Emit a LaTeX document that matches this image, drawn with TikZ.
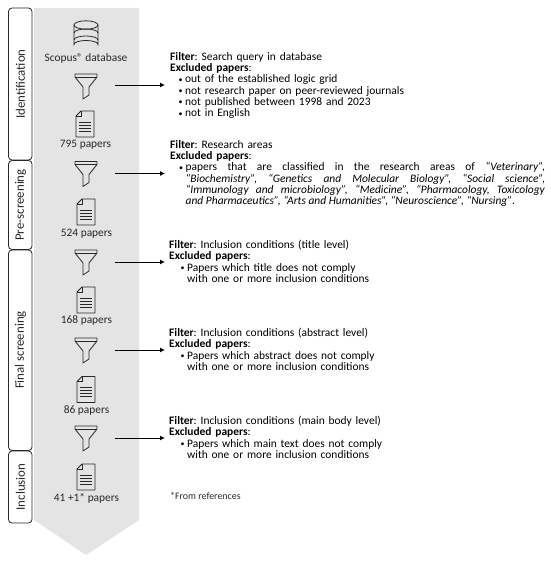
\documentclass[tikz,border=0pt]{standalone}
\usepackage{fontspec}
\setmainfont{Carlito}
\usetikzlibrary{arrows.meta}
\definecolor{bandgray}{RGB}{228,228,228}
\definecolor{inkgray}{RGB}{40,40,40}
\newcommand{\smallbullet}{\llap{\raisebox{.6pt}{\fontsize{8}{8}\selectfont\textbullet}\hspace{2.6pt}}}
\newcommand{\bulletline}[2][15pt]{\par\leftskip=#1\relax\noindent\smallbullet#2\par}
\tikzset{
  phasebox/.style={draw=inkgray,line width=.8pt,rounded corners=3.5pt,fill=white},
  phaselabel/.style={rotate=90,font=\fontsize{12.9}{14}\selectfont,text=inkgray,inner sep=0pt},
  iconlabel/.style={font=\fontsize{11.4}{12}\selectfont,text=inkgray,inner sep=0pt,anchor=base},
  filtertext/.style={font=\fontsize{11.45}{11.3}\selectfont\frenchspacing,text=black,inner sep=0pt,anchor=north west,align=left,text width=375pt},
  excludearrow/.style={-{Latex[length=5pt,width=5pt]},line width=.9pt,black},
  funnel/.pic={
    \draw[inkgray,line width=.8pt,line join=round] (-11,0) -- (11,0) -- (11,3) -- (3,13) -- (3,21) -- (-3,25) -- (-3,13) -- (-11,3) -- cycle;
    \draw[inkgray,line width=.8pt] (-11,3) -- (11,3);
  },
  paper/.pic={
    \draw[inkgray,line width=.8pt,line join=round] (-4,0) -- (9,0) -- (9,26) -- (-9,26) -- (-9,5) -- cycle;
    \draw[inkgray,line width=.7pt] (-4,0) -- (-4,5) -- (-9,5);
    \foreach \ypos in {11,14,17,20} \draw[inkgray,line width=.8pt] (-6,\ypos) -- (6,\ypos);
  }
}
\begin{document}
\begin{tikzpicture}[x=1pt,y=-1pt]
\useasboundingbox (0,0) rectangle (550,561);
% gray band
\fill[bandgray] (34,8) -- (139,8) -- (139,520) -- (86,555) -- (34,520) -- cycle;
% phases
\draw[phasebox] (8.5,8) rectangle (32,160);
\draw[phasebox] (8.5,160.5) rectangle (32,249.5);
\draw[phasebox] (8.5,250) rectangle (32,450.5);
\draw[phasebox] (8.5,451) rectangle (32,523);
\node[phaselabel] (identification) at (20.5,84) {Identification};
\node[phaselabel] (prescreening) at (20.5,205) {Pre-screening};
\node[phaselabel] (finalscreening) at (20.5,350) {Final screening};
\node[phaselabel] (inclusion) at (20.5,487) {Inclusion};
% database
\draw[inkgray,line width=.8pt] (74,25) -- (74,44.5) arc[start angle=180,end angle=0,x radius=12,y radius=-4] -- (98,25);
\draw[inkgray,line width=.8pt] (86,25) ellipse[x radius=12,y radius=4.2];
\draw[inkgray,line width=.8pt] (74,33) arc[start angle=180,end angle=0,x radius=12,y radius=-4];
\draw[inkgray,line width=.8pt] (74,40) arc[start angle=180,end angle=0,x radius=12,y radius=-4];
\node[iconlabel] (scopus) at (86,62) {Scopus® database};
% funnels and papers
\path (86,74) pic{funnel} (86,161.5) pic{funnel} (86,250) pic{funnel} (86,338) pic{funnel} (86,426) pic{funnel};
\path (85,111) pic{paper} (86,199) pic{paper} (86,287) pic{paper} (86,376.5) pic{paper} (86,464) pic{paper};
\node[iconlabel] (papersA) at (85.5,148) {795 papers};
\node[iconlabel] (papersB) at (86.5,236) {524 papers};
\node[iconlabel] (papersC) at (86.5,323) {168 papers};
\node[iconlabel] (papersD) at (86.5,413) {86 papers};
\node[iconlabel] (papersE) at (86.5,501) {41 +1* papers};
% filters
\node[filtertext] (filterA) at (170,52) {\textbf{Filter}: Search query in database\\ \textbf{Excluded papers}:
\bulletline{out of the established logic grid}
\bulletline{not research paper on peer-reviewed journals}
\bulletline{not published between 1998 and 2023}
\bulletline{not in English}};
\node[filtertext] (filterB) at (170,140) {\textbf{Filter}: Research areas\\ \textbf{Excluded papers}:
\par\leftskip=15.5pt\rightskip=0pt\spaceskip=0pt\relax\noindent\smallbullet papers that are classified in the research areas of \textit{“Veterinary”,}\linebreak\textit{“Biochemistry”, “Genetics and Molecular Biology”, “Social science”,}\linebreak\textit{“Immunology and microbiology”, “Medicine”, “Pharmacology, Toxicology}\linebreak\textit{and Pharmaceutics”, “Arts and Humanities”, “Neuroscience”, “Nursing”}.\par};
\node[filtertext] (filterC) at (169,240) {\textbf{Filter}: Inclusion conditions (title level)\\ \textbf{Excluded papers}:
\bulletline[18pt]{Papers which title does not comply\\ with one or more inclusion conditions}};
\node[filtertext] (filterD) at (169,328) {\textbf{Filter}: Inclusion conditions (abstract level)\\ \textbf{Excluded papers}:
\bulletline[18pt]{Papers which abstract does not comply\\ with one or more inclusion conditions}};
\node[filtertext] (filterE) at (169,416) {\textbf{Filter}: Inclusion conditions (main body level)\\ \textbf{Excluded papers}:
\bulletline[18pt]{Papers which main text does not comply\\ with one or more inclusion conditions}};
\node[inner sep=0pt,anchor=base west,font=\fontsize{9.9}{10}\selectfont,text=inkgray] (fromrefs) at (170,499) {*From references};
% arrows
\coordinate (startA) at (115,85);   \coordinate (endA) at (165,85);
\coordinate (startB) at (115,173.5);\coordinate (endB) at (165,173.5);
\coordinate (startC) at (115,262);  \coordinate (endC) at (165,262);
\coordinate (startD) at (115,350);  \coordinate (endD) at (165,350);
\coordinate (startE) at (115,438);  \coordinate (endE) at (165,438);
\foreach \gate in {A,B,C,D,E} \draw[excludearrow] (start\gate) -- (end\gate);
\end{tikzpicture}
\end{document}
